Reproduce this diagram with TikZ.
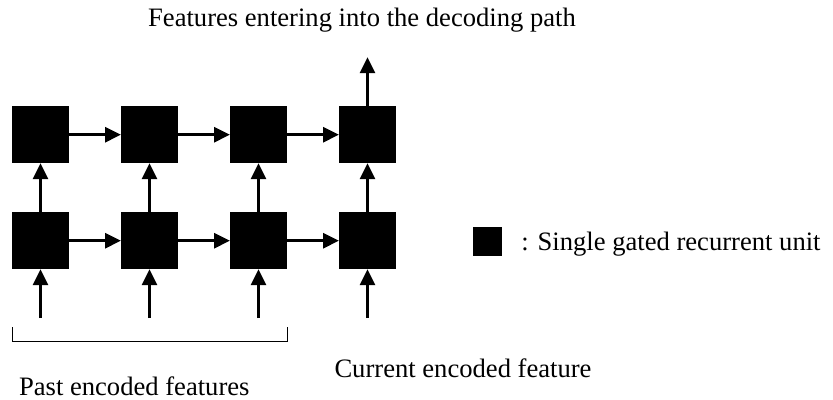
\documentclass[tikz,border=0pt]{standalone}
\usepackage{fontspec}
\setmainfont{Liberation Serif}
\usetikzlibrary{positioning,arrows.meta}

\begin{document}
\begin{tikzpicture}[x=0.5pt, y=-0.5pt,
        gru/.style={fill=black, minimum size=28.5pt, inner sep=0pt, outer sep=0pt},
        flow/.style={-{Triangle[length=8pt,width=7.5pt]}, line width=1.5pt},
        lbl/.style={font=\fontsize{13.3}{15}\selectfont, inner sep=0pt, anchor=base},
        node distance=24.5pt and 26pt]
    \useasboundingbox (0,0) rectangle (833,400);
    % two stacked rows of units
    \node[gru] (b1) at (40.5,240.7) {};
    \node[gru,right=of b1] (b2) {};
    \node[gru,right=of b2] (b3) {};
    \node[gru,right=of b3] (b4) {};
    \node[gru,above=of b1] (t1) {};
    \node[gru,above=of b2] (t2) {};
    \node[gru,above=of b3] (t3) {};
    \node[gru,above=of b4] (t4) {};
    \foreach \i in {1,...,4} {
        \coordinate[below=of b\i] (in\i);
        \draw[flow] (in\i) -- (b\i);
        \draw[flow] (b\i) -- (t\i);
    }
    \coordinate[above=of t4] (out);
    \draw[flow] (b1) -- (b2);
    \draw[flow] (b2) -- (b3);
    \draw[flow] (b3) -- (b4);
    \draw[flow] (t1) -- (t2);
    \draw[flow] (t2) -- (t3);
    \draw[flow] (t3) -- (t4);
    \draw[flow] (t4) -- (out);
    % bracket under the past inputs
    \draw[line width=0.5pt] ([yshift=-29pt]b1.south west) -- ++(0,-7.25pt) -| ([yshift=-29pt]b3.south east);
    \node[lbl] (title) at (362,27) {Features entering into the decoding path};
    \node[lbl] (past) at (134.3,395) {Past encoded features};
    \node[lbl] (cur) at (463,377) {Current encoded feature};
    % legend
    \node[gru, minimum size=14.5pt] (key) at (487.5,241.5) {};
    \node[lbl, anchor=base west] (keytext) at (521,250) {: Single gated recurrent unit};
\end{tikzpicture}
\end{document}
